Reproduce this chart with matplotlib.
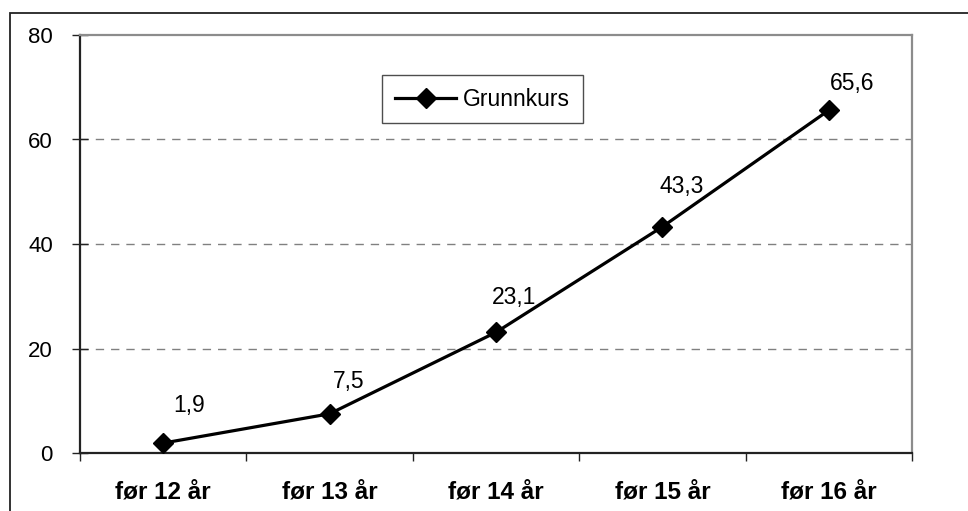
import matplotlib
matplotlib.use("Agg")
import matplotlib.pyplot as plt
from matplotlib.patches import Rectangle

plt.rcParams['font.family'] = ['Liberation Sans', 'DejaVu Sans']

# data
categories = ['før 12 år', 'før 13 år', 'før 14 år', 'før 15 år', 'før 16 år']
grunnkurs = [1.9, 7.5, 23.1, 43.3, 65.6]
series_name = 'Grunnkurs'
y_ticks = [0, 20, 40, 60, 80]

# label offsets (points) as Excel placed them
label_offsets = [(19, 27), (14, 23), (13, 25), (14, 29), (17, 19)]

fig = plt.figure(figsize=(9.68, 5.11), dpi=100)
# outer chart border (only top/left visible in the crop)
fig.patches.append(Rectangle((10 / 968, -0.1), 1.2, (511 - 13) / 511 + 0.1,
                             transform=fig.transFigure, fill=False,
                             edgecolor='#222222', linewidth=1.3))

ax = fig.add_axes([80 / 968, (511 - 453) / 511, 832 / 968, 418 / 511])
x = list(range(len(categories)))

ax.plot(x, grunnkurs, color='black', linewidth=2.3, marker='D',
        markersize=10, label=series_name, zorder=3)

for xi, v, off in zip(x, grunnkurs, label_offsets):
    ax.annotate(f'{v:.1f}'.replace('.', ','), (xi, v), xytext=off,
                textcoords='offset points', ha='center', va='center',
                fontsize=16.5)

ax.set_xlim(-0.5, len(categories) - 0.5)
ax.set_ylim(0, 80)
ax.set_yticks(y_ticks)
ax.set_yticklabels([str(t) for t in y_ticks], fontsize=16)
ax.set_xticks(x)
ax.set_xticklabels(categories, fontsize=17.5, fontweight='bold')
ax.set_xticks([i - 0.5 for i in range(len(categories) + 1)], minor=True)
ax.tick_params(axis='x', which='major', length=0, pad=20)
ax.tick_params(axis='x', which='minor', length=6, width=1, direction='out', color='#222222')
ax.tick_params(axis='y', length=11, width=1, direction='inout', pad=14, color='#222222')

for yv in y_ticks[1:-1]:
    ax.axhline(yv, color='#808080', linewidth=1, linestyle=(0, (6, 5)), zorder=1)

ax.spines['left'].set_color('#222222')
ax.spines['bottom'].set_color('#222222')
ax.spines['left'].set_linewidth(1.6)
ax.spines['bottom'].set_linewidth(1.6)
ax.spines['top'].set_color('#8c8c8c')
ax.spines['right'].set_color('#8c8c8c')
ax.spines['top'].set_linewidth(1.6)
ax.spines['right'].set_linewidth(1.6)

leg = ax.legend(loc='upper left', bbox_to_anchor=((382 - 80) / 832, (453 - 75) / 418),
                borderaxespad=0, fontsize=16.5, frameon=True, fancybox=False,
                handlelength=2.7, handletextpad=0.3, borderpad=0.55)
leg.get_frame().set_edgecolor('#222222')
leg.get_frame().set_linewidth(1.0)

fig.savefig('out.png', dpi=100)
